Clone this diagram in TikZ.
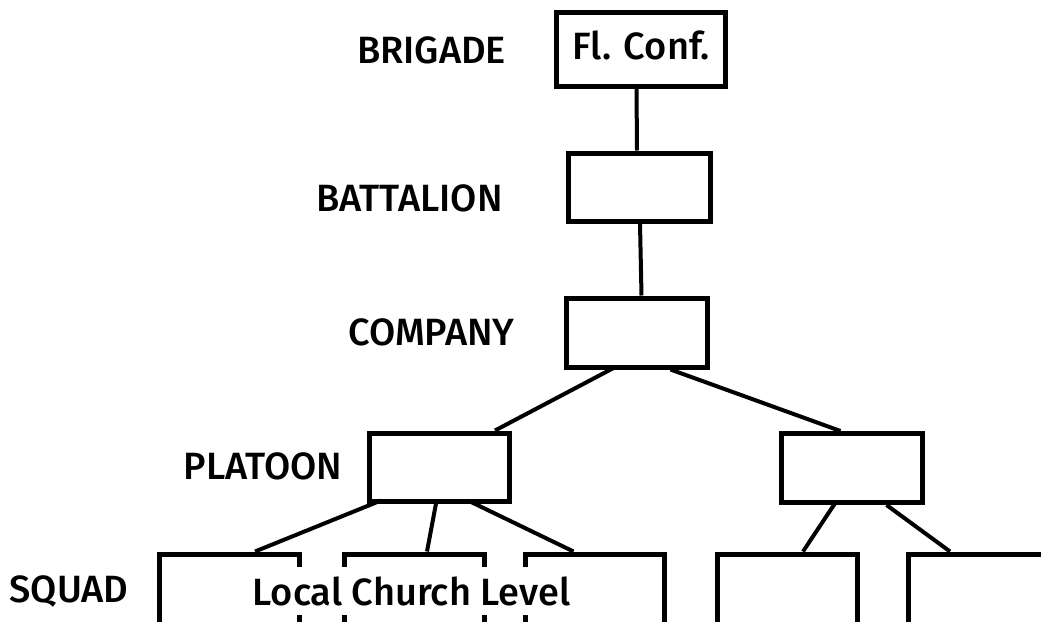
\documentclass[tikz,border=0pt]{standalone}
\usepackage{fontspec}
\setmainfont{Fira Sans}[UprightFont=* Medium]
\usetikzlibrary{calc}
\begin{document}
\begin{tikzpicture}[x=1pt,y=-1pt,
  box/.style={draw,line width=5pt,rectangle,inner sep=0pt,minimum width=141pt,minimum height=69pt},
  sq/.style={draw,line width=5pt,rectangle,inner sep=0pt,minimum width=140pt,minimum height=140pt},
  lvl/.style={font=\fontsize{38}{43}\selectfont,inner sep=0pt},
  conn/.style={line width=4pt}]
\clip (0,0) rectangle (1041,621);
\useasboundingbox (0,0) rectangle (1041,621);
\node[box,minimum width=169pt,minimum height=74pt] (fc) at (640.5,49) {};
\node[lvl] (fctext) at (641,45) {Fl. Conf.};
\node[box,minimum width=142pt,minimum height=68pt] (bat) at (639,187) {};
\node[box] (comp) at (636.5,332.5) {};
\node[box,minimum width=140pt,minimum height=68pt] (pl1) at (439,467) {};
\node[box] (pl2) at (851.5,468) {};
\node[sq] (s1) at (229,624) {};
\node[sq] (s2) at (414,624) {};
\node[sq,minimum width=139pt] (s3) at (594.5,624) {};
\node[sq] (s4) at (787,624) {};
\node[sq] (s5) at (978,624) {};
\node[lvl,fill=white,inner xsep=3pt,inner ysep=9pt] (lcl) at (411.5,591) {Local Church Level};
\node[lvl] (lb1) at (431.5,50) {BRIGADE};
\node[lvl] (lb2) at (409.5,198) {BATTALION};
\node[lvl] (lb3) at (431.5,332) {COMPANY};
\node[lvl] (lb4) at (263,466) {PLATOON};
\node[lvl] (lb5) at (69,591) {SQUAD};
\draw[conn] ($(fc.south)+(-4,0)$) -- ($(bat.north)+(-2,0)$);
\draw[conn] ($(bat.south)+(1,0)$) -- ($(comp.north)+(5,0)$);
\draw[conn] ($(comp.south)+(-22,-2)$) -- ($(pl1.north)+(56,0)$);
\draw[conn] ($(comp.south)+(34,0)$) -- ($(pl2.north)+(-11,0)$);
\draw[conn] ($(pl1.south)+(-58,-3)$) -- ($(s1.north)+(26,0)$);
\draw[conn] ($(pl1.south)+(-3,0)$) -- ($(s2.north)+(13,0)$);
\draw[conn] ($(pl1.south)+(29,-3)$) -- ($(s3.north)+(-21,0)$);
\draw[conn] ($(pl2.south)+(-17,-1)$) -- ($(s4.north)+(16,0)$);
\draw[conn] ($(pl2.south)+(35,0)$) -- ($(s5.north)+(-28,0)$);
\end{tikzpicture}
\end{document}
